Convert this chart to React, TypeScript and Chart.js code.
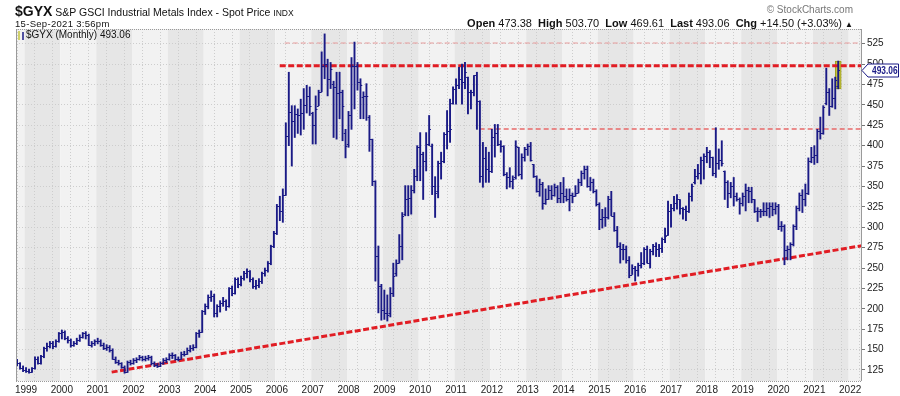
import React, { useEffect, useRef } from 'react';
import { Chart, registerables } from 'chart.js';

Chart.register(...registerables);

// First bar: October 1998, monthly bars through September 2021
const FIRST_YEAR = 1998;
const FIRST_MONTH = 10;

const open = [
  135, 133, 128,
  125, 124, 123, 127, 139, 134, 142, 152, 155, 158, 154, 160,
  170, 172, 164, 162, 156, 158, 162, 166, 170, 168, 156, 158,
  160, 161, 156, 152, 153, 150, 139, 135, 133, 129, 123, 135,
  134, 137, 139, 141, 139, 140, 141, 133, 131, 130, 133, 137,
  138, 143, 143, 139, 139, 145, 145, 150, 152, 153, 170, 172,
  197, 203, 215, 216, 195, 203, 207, 209, 203, 225, 219, 236,
  230, 238, 244, 246, 236, 228, 229, 234, 244, 248, 256, 277,
  293, 326, 320, 340, 412, 441, 430, 439, 437, 440, 450, 461,
  440, 425, 449, 466, 498, 500, 482, 475, 472, 464, 466, 415,
  402, 438, 498, 498, 478, 460, 461, 435, 408, 357, 265, 228,
  199, 195, 195, 219, 244, 256, 277, 316, 334, 336, 346, 363,
  398, 390, 381, 402, 400, 350, 345, 379, 381, 414, 418, 452,
  470, 474, 482, 478, 484, 466, 466, 486, 455, 363, 385, 371,
  369, 410, 416, 402, 400, 365, 361, 357, 361, 398, 365, 386,
  396, 400, 377, 363, 344, 353, 330, 334, 346, 340, 349, 336,
  342, 338, 334, 340, 338, 342, 355, 367, 371, 351, 355, 344,
  328, 310, 312, 312, 334, 314, 297, 277, 273, 273, 260, 242,
  250, 248, 254, 256, 273, 256, 271, 277, 273, 275, 285, 290,
  320, 324, 330, 334, 324, 322, 320, 338, 355, 363, 367, 383,
  387, 392, 386, 367, 379, 383, 369, 355, 342, 351, 338, 334,
  330, 338, 346, 344, 334, 320, 320, 320, 320, 324, 326, 322,
  326, 301, 301, 272, 273, 279, 301, 324, 340, 334, 342, 381,
  386, 388, 418, 416, 452, 466, 449, 459, 473.38,
];

const high = [
  138, 134, 130,
  128, 126, 128, 141, 141, 143, 153, 158, 160, 160, 162, 171,
  174, 173, 166, 163, 160, 164, 168, 171, 172, 169, 160, 162,
  164, 162, 158, 156, 155, 151, 141, 137, 134, 130, 136, 137,
  139, 140, 143, 142, 142, 143, 142, 135, 133, 135, 139, 140,
  145, 146, 144, 141, 147, 148, 152, 155, 156, 171, 174, 198,
  206, 217, 222, 218, 205, 210, 214, 211, 226, 228, 238, 238,
  240, 246, 249, 247, 238, 235, 237, 245, 250, 258, 278, 295,
  328, 338, 347, 428, 490, 449, 449, 445, 457, 470, 474, 472,
  441, 461, 468, 515, 537, 506, 502, 479, 490, 490, 468, 420,
  442, 508, 527, 502, 482, 466, 476, 437, 408, 357, 277, 230,
  223, 217, 226, 256, 260, 291, 318, 351, 351, 351, 371, 400,
  416, 392, 416, 437, 402, 362, 381, 392, 416, 443, 457, 472,
  482, 496, 500, 502, 484, 468, 486, 490, 455, 404, 398, 392,
  420, 426, 426, 406, 400, 367, 373, 363, 406, 398, 390, 398,
  402, 404, 377, 363, 359, 355, 347, 351, 351, 353, 351, 355,
  361, 347, 347, 342, 351, 359, 369, 375, 375, 361, 359, 346,
  330, 322, 324, 338, 344, 318, 301, 281, 279, 277, 264, 254,
  252, 256, 269, 275, 277, 273, 279, 281, 279, 287, 299, 332,
  328, 338, 340, 334, 324, 326, 342, 353, 371, 377, 386, 390,
  398, 394, 386, 422, 396, 406, 369, 357, 355, 361, 342, 336,
  342, 353, 349, 349, 334, 324, 322, 330, 330, 330, 330, 330,
  328, 307, 303, 277, 281, 303, 326, 342, 346, 353, 385, 398,
  400, 420, 435, 449, 495, 470, 482, 484, 503.7,
];

const low = [
  130, 126, 123,
  122, 121, 122, 126, 132, 132, 140, 148, 152, 151, 153, 159,
  163, 162, 158, 153, 154, 156, 160, 164, 163, 155, 153, 155,
  157, 154, 150, 149, 147, 138, 133, 131, 127, 121, 122, 131,
  132, 134, 137, 136, 136, 137, 131, 129, 128, 129, 132, 134,
  137, 139, 137, 136, 138, 142, 144, 147, 149, 152, 165, 171,
  193, 200, 209, 190, 190, 196, 203, 198, 202, 216, 218, 226,
  228, 235, 238, 233, 225, 224, 226, 231, 240, 245, 254, 275,
  291, 308, 306, 339, 400, 375, 410, 415, 413, 420, 440, 437,
  402, 402, 449, 466, 482, 461, 470, 410, 408, 433, 406, 385,
  398, 420, 445, 468, 433, 433, 431, 393, 351, 234, 195, 186,
  187, 185, 190, 215, 240, 256, 260, 314, 314, 316, 342, 357,
  357, 334, 369, 400, 340, 312, 336, 359, 379, 396, 404, 451,
  451, 470, 451, 470, 439, 445, 461, 420, 355, 349, 355, 355,
  367, 386, 400, 392, 363, 347, 349, 347, 359, 363, 359, 381,
  388, 381, 361, 343, 338, 322, 328, 334, 334, 338, 330, 330,
  330, 332, 320, 330, 338, 342, 351, 359, 349, 345, 342, 326,
  297, 299, 301, 310, 314, 295, 275, 256, 260, 256, 238, 242,
  234, 240, 250, 254, 256, 250, 266, 264, 264, 269, 281, 290,
  300, 320, 322, 316, 310, 308, 318, 332, 353, 359, 353, 359,
  379, 373, 363, 361, 371, 375, 334, 324, 336, 326, 332, 316,
  326, 320, 330, 330, 318, 307, 312, 314, 314, 312, 314, 316,
  297, 295, 254, 260, 260, 277, 297, 320, 318, 326, 340, 379,
  377, 379, 408, 414, 450, 437, 447, 445, 469.61,
];

const close = [
  133, 128, 125,
  124, 123, 127, 139, 134, 142, 152, 155, 158, 154, 160, 170,
  172, 164, 162, 156, 158, 162, 166, 170, 168, 156, 158, 160,
  161, 156, 152, 153, 150, 139, 135, 133, 129, 123, 135, 134,
  137, 139, 141, 139, 140, 141, 133, 131, 130, 133, 137, 138,
  143, 143, 139, 139, 145, 145, 150, 152, 153, 170, 172, 197,
  203, 215, 216, 195, 203, 207, 209, 203, 225, 219, 236, 230,
  238, 244, 246, 236, 228, 229, 234, 244, 248, 256, 277, 293,
  326, 320, 340, 412, 441, 430, 439, 437, 440, 450, 461, 449,
  425, 445, 466, 498, 500, 482, 494, 472, 464, 466, 449, 400,
  438, 498, 498, 478, 474, 461, 461, 408, 357, 265, 228, 199,
  195, 193, 219, 240, 256, 277, 314, 334, 336, 346, 363, 398,
  390, 381, 402, 420, 350, 342, 379, 381, 414, 418, 420, 470,
  474, 482, 478, 490, 466, 466, 486, 455, 363, 385, 371, 369,
  410, 416, 402, 400, 365, 361, 357, 359, 400, 365, 386, 396,
  400, 383, 363, 344, 353, 330, 334, 346, 340, 349, 336, 342,
  338, 334, 340, 338, 342, 355, 367, 371, 351, 355, 344, 328,
  310, 312, 312, 334, 314, 297, 277, 273, 273, 260, 242, 250,
  248, 254, 256, 273, 256, 271, 277, 273, 275, 285, 289, 320,
  324, 330, 334, 324, 322, 320, 338, 351, 363, 367, 383, 387,
  392, 386, 367, 379, 383, 379, 355, 342, 351, 338, 334, 330,
  338, 346, 344, 334, 320, 320, 320, 320, 324, 326, 322, 326,
  301, 301, 272, 273, 279, 301, 324, 340, 334, 342, 381, 386,
  388, 418, 416, 447, 466, 449, 459, 480, 493.06,
];

// Annotation lines (value levels and start dates, in fractional years)
const resistanceLevel = 498;
const resistanceStart = 2006.08;
const upperLevel = 525.8;
const upperStart = 2006.22;
const middleLevel = 420.4;
const middleStart = 2011.66;
const trendFrom = { x: 2001.39, y: 122.4 };
const trendTo = { x: 2022.33, y: 277.4 };

const bandYears = [1998, 1999, 2000, 2001, 2002, 2003, 2004, 2005, 2006, 2007, 2008, 2009, 2010,
  2011, 2012, 2013, 2014, 2015, 2016, 2017, 2018, 2019, 2020, 2021, 2022];

const X_MIN = 1998.72;
const X_MAX = 2022.33;
const Y_MIN = 111.5;
const Y_MAX = 543;

const NAVY = '#1a1a86';
const FONT = "'Liberation Sans', Arial, sans-serif";

const times = close.map((_, i) => FIRST_YEAR + (FIRST_MONTH - 1 + i) / 12);
const last = close.length - 1;

const bandsPlugin = {
  id: 'bands',
  beforeDraw(chart: any) {
    const { ctx, chartArea: a, scales } = chart;
    const x = scales.x;
    ctx.save();
    ctx.fillStyle = '#ffffff';
    ctx.fillRect(0, 0, chart.width, chart.height);
    ctx.beginPath();
    ctx.rect(a.left, a.top, a.right - a.left, a.bottom - a.top);
    ctx.clip();
    bandYears.forEach((yr) => {
      const x0 = x.getPixelForValue(yr - 0.5 / 12);
      const x1 = x.getPixelForValue(yr + 1 - 0.5 / 12);
      ctx.fillStyle = yr % 2 === 1 ? '#e6e6e6' : '#f2f2f2';
      ctx.fillRect(x0, a.top, x1 - x0, a.bottom - a.top);
    });
    ctx.restore();
  },
};

const ohlcTicksPlugin = {
  id: 'ohlcTicks',
  afterDatasetsDraw(chart: any) {
    const { ctx, scales, chartArea: a } = chart;
    const x = scales.x;
    const y = scales.y;
    ctx.save();
    ctx.beginPath();
    ctx.rect(a.left, a.top, a.right - a.left, a.bottom - a.top);
    ctx.clip();
    ctx.strokeStyle = NAVY;
    ctx.lineWidth = 1;
    ctx.beginPath();
    times.forEach((t, i) => {
      const px = x.getPixelForValue(t);
      const yo = Math.round(y.getPixelForValue(open[i])) + 0.5;
      const yc = Math.round(y.getPixelForValue(close[i])) + 0.5;
      ctx.moveTo(px - 1.8, yo);
      ctx.lineTo(px, yo);
      ctx.moveTo(px, yc);
      ctx.lineTo(px + 1.8, yc);
    });
    ctx.stroke();
    ctx.restore();
  },
};

const framePlugin = {
  id: 'frame',
  afterDraw(chart: any) {
    const { ctx, chartArea: a, scales } = chart;
    ctx.save();
    ctx.strokeStyle = '#9a9a9a';
    ctx.lineWidth = 1;
    ctx.beginPath();
    ctx.moveTo(a.left + 0.5, a.top);
    ctx.lineTo(a.left + 0.5, a.bottom);
    ctx.moveTo(a.right - 0.5, a.top);
    ctx.lineTo(a.right - 0.5, a.bottom);
    ctx.stroke();
    ctx.setLineDash([1, 1]);
    ctx.beginPath();
    ctx.moveTo(a.left, a.bottom + 0.5);
    ctx.lineTo(a.right, a.bottom + 0.5);
    ctx.moveTo(a.left, a.top + 0.5);
    ctx.lineTo(a.right, a.top + 0.5);
    ctx.stroke();
    ctx.setLineDash([]);

    // last price tag on the right axis
    const yy = Math.round(scales.y.getPixelForValue(close[last])) + 0.5;
    const xl = a.right;
    const h = 13;
    ctx.beginPath();
    ctx.moveTo(xl, yy);
    ctx.lineTo(xl + 6, yy - h / 2);
    ctx.lineTo(chart.width - 1.5, yy - h / 2);
    ctx.lineTo(chart.width - 1.5, yy + h / 2);
    ctx.lineTo(xl + 6, yy + h / 2);
    ctx.closePath();
    ctx.fillStyle = '#ffffff';
    ctx.fill();
    ctx.strokeStyle = NAVY;
    ctx.stroke();
    ctx.fillStyle = NAVY;
    ctx.font = `bold 11px ${FONT}`;
    ctx.textBaseline = 'middle';
    ctx.textAlign = 'left';
    ctx.translate(xl + 10, yy + 0.5);
    ctx.scale(0.76, 1);
    ctx.fillText(close[last].toFixed(2), 0, 0);
    ctx.restore();
  },
};

function ChartCanvas() {
  const ref = useRef<HTMLCanvasElement | null>(null);
  useEffect(() => {
    if (!ref.current) return;
    const chart = new Chart(ref.current, {
      type: 'bar',
      data: {
        datasets: [
          {
            type: 'bar',
            label: 'last',
            data: [{ x: times[last], y: [low[last], high[last]] }] as any,
            backgroundColor: '#c6c63e',
            borderColor: '#9c9c1c',
            borderWidth: 1,
            borderSkipped: false,
            barThickness: 6,
            grouped: false,
            order: 5,
          } as any,
          {
            type: 'line',
            label: 'resistance',
            data: [{ x: resistanceStart, y: resistanceLevel }, { x: X_MAX, y: resistanceLevel }],
            borderColor: '#e11d24',
            borderWidth: 3,
            borderDash: [6, 2.5],
            pointRadius: 0,
            order: 4,
          } as any,
          {
            type: 'line',
            label: 'upper',
            data: [{ x: upperStart, y: upperLevel }, { x: X_MAX, y: upperLevel }],
            borderColor: '#e79a9a',
            borderWidth: 1,
            borderDash: [5, 3],
            pointRadius: 0,
            order: 4,
          } as any,
          {
            type: 'line',
            label: 'middle',
            data: [{ x: middleStart, y: middleLevel }, { x: X_MAX, y: middleLevel }],
            borderColor: '#e86a6a',
            borderWidth: 1.5,
            borderDash: [5, 3],
            pointRadius: 0,
            order: 4,
          } as any,
          {
            type: 'line',
            label: 'trend',
            data: [trendFrom, trendTo],
            borderColor: '#e11d24',
            borderWidth: 3,
            borderDash: [6, 2.5],
            pointRadius: 0,
            order: 4,
          } as any,
          {
            type: 'bar',
            label: '$GYX',
            data: times.map((t, i) => ({ x: t, y: [low[i], high[i]] })) as any,
            backgroundColor: NAVY,
            borderWidth: 0,
            barThickness: 1.25,
            grouped: false,
            order: 1,
          } as any,
        ],
      },
      options: {
        responsive: false,
        animation: false,
        devicePixelRatio: 1,
        layout: { padding: { left: 16, top: 29, right: 0, bottom: 0 } },
        plugins: {
          legend: { display: false },
          tooltip: { enabled: false },
          title: { display: false },
        },
        scales: {
          x: {
            type: 'linear',
            min: X_MIN,
            max: X_MAX,
            offset: false,
            afterFit: (s: any) => { s.height = 15; },
            grid: { color: '#cdcdcd', drawTicks: false, lineWidth: 1 },
            border: { display: false, dash: [1, 2] },
            ticks: {
              stepSize: 0.5,
              includeBounds: false,
              autoSkip: false,
              maxRotation: 0,
              padding: 3,
              color: '#222',
              font: { family: FONT, size: 10 },
              callback: (v: any) => (Math.abs(v - Math.round(v)) < 1e-6 ? String(Math.round(v)) : ''),
            },
          },
          y: {
            type: 'linear',
            position: 'right',
            min: Y_MIN,
            max: Y_MAX,
            afterFit: (s: any) => { s.width = 38; },
            grid: { color: '#cdcdcd', drawTicks: true, tickLength: 3, tickColor: '#777' },
            border: { display: false, dash: [1, 2] },
            ticks: {
              stepSize: 25,
              includeBounds: false,
              padding: 2,
              color: '#222',
              font: { family: FONT, size: 10 },
            },
          },
        },
      } as any,
      plugins: [bandsPlugin, ohlcTicksPlugin, framePlugin],
    });
    return () => chart.destroy();
  }, []);
  return <canvas ref={ref} width={900} height={396} style={{ position: 'absolute', left: 0, top: 0, width: 900, height: 396 }} />;
}

export default function App() {
  const txt: React.CSSProperties = { position: 'absolute', fontFamily: FONT, color: '#111', whiteSpace: 'nowrap', lineHeight: 1 };
  return (
    <div style={{ position: 'fixed', left: 0, top: 0, width: 900, height: 396, background: '#fff', overflow: 'hidden' }}>
      <ChartCanvas />
      <div style={{ ...txt, left: 15, top: 3 }}>
        <span style={{ fontWeight: 'bold', fontSize: 14 }}>$GYX</span>
        <span style={{ fontSize: 10.5 }}> S&amp;P GSCI Industrial Metals Index - Spot Price </span>
        <span style={{ fontSize: 8.5 }}>INDX</span>
      </div>
      <div style={{ ...txt, left: 15, top: 19, fontSize: 9.5, letterSpacing: 0.3 }}>15-Sep-2021 3:56pm</div>
      <div style={{ ...txt, right: 47, top: 5, fontSize: 10, color: '#777' }}>© StockCharts.com</div>
      <div style={{ ...txt, right: 47, top: 18, fontSize: 11 }}>
        <b>Open</b> 473.38 &nbsp;<b>High</b> 503.70 &nbsp;<b>Low</b> 469.61 &nbsp;<b>Last</b> 493.06 &nbsp;<b>Chg</b> +14.50 (+3.03%) <span style={{ fontSize: 8 }}>▲</span>
      </div>
      <div style={{ ...txt, left: 17, top: 30, fontSize: 10, display: 'flex', alignItems: 'center' }}>
        <svg width="8" height="9" style={{ marginRight: 1 }}>
          <line x1="2" y1="0" x2="2" y2="9" stroke="#c6c63e" strokeWidth="1.5" />
          <line x1="6" y1="1" x2="6" y2="9" stroke={NAVY} strokeWidth="1.5" />
        </svg>
        <span>$GYX (Monthly) 493.06</span>
      </div>
    </div>
  );
}
